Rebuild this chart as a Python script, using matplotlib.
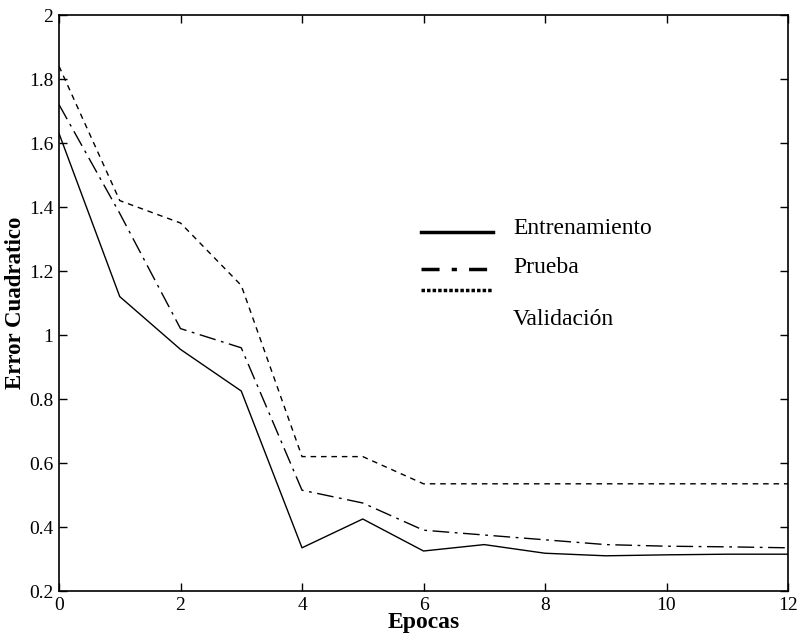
import matplotlib
matplotlib.use('Agg')
import matplotlib.pyplot as plt
from matplotlib.ticker import FuncFormatter

plt.rcParams['font.family'] = ['Liberation Serif', 'DejaVu Serif']

# data
epocas = [0, 1, 2, 3, 4, 5, 6, 7, 8, 9, 10, 11, 12]
entrenamiento = [1.63, 1.12, 0.955, 0.825, 0.335, 0.425, 0.325, 0.345, 0.318, 0.31, 0.313, 0.315, 0.315]
prueba = [1.72, 1.38, 1.02, 0.96, 0.515, 0.475, 0.39, 0.375, 0.36, 0.345, 0.34, 0.338, 0.335]
validacion = [1.84, 1.42, 1.35, 1.155, 0.62, 0.62, 0.535, 0.535, 0.535, 0.535, 0.535, 0.535, 0.535]
nombres = ['Entrenamiento', 'Prueba', 'Validación']

fig = plt.figure(figsize=(7.98, 6.38), dpi=100)
ax = fig.add_axes([59/798, 1 - 591/638, (788 - 59)/798, (591 - 15)/638])

ax.plot(epocas, entrenamiento, color='black', lw=1.0, linestyle='-')
ax.plot(epocas, prueba, color='black', lw=1.0, linestyle=(0, (12, 4, 2, 4)))
ax.plot(epocas, validacion, color='black', lw=1.0, linestyle=(0, (4, 3.5)))

ax.set_xlim(0, 12)
ax.set_ylim(0.2, 2)
ax.set_xticks(range(0, 13, 2))
ax.set_yticks([0.2, 0.4, 0.6, 0.8, 1.0, 1.2, 1.4, 1.6, 1.8, 2.0])
ax.yaxis.set_major_formatter(FuncFormatter(lambda v, p: '%g' % round(v, 2)))
ax.tick_params(direction='in', length=6, width=1, top=True, right=True, labelsize=14, pad=4)
for s in ax.spines.values():
    s.set_linewidth(1.2)

ax.set_xlabel('Epocas', fontsize=17, fontweight='bold', labelpad=-1)
ax.set_ylabel('Error Cuadratico', fontsize=16.5, fontweight='bold', labelpad=2)

# legend drawn by hand (MATLAB style: no frame, texts not aligned with the lines)
estilos = ['-', (0, (5.2, 3.5, 1.5, 3.5)), (0, (1, 0.6))]
y_lineas = [0.623, 0.559, 0.523]
y_textos = [0.630, 0.561, 0.472]
for est, yl, yt, nom in zip(estilos, y_lineas, y_textos, nombres):
    ax.plot([0.497, 0.595], [yl, yl], transform=ax.transAxes, color='black', lw=2.5, linestyle=est)
    ax.text(0.623, yt, nom, transform=ax.transAxes, fontsize=17, va='center', ha='left')

fig.savefig('out.png', dpi=100)
